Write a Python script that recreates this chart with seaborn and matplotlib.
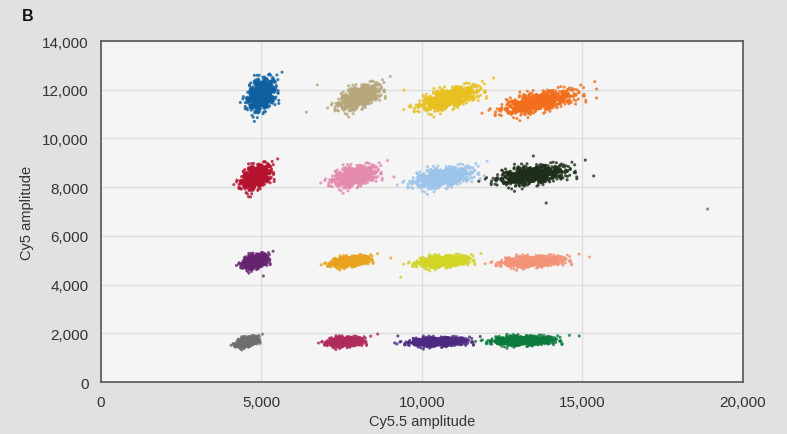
import numpy as np
import pandas as pd
import matplotlib
matplotlib.use("Agg")
import matplotlib.pyplot as plt
import seaborn as sns

# Cluster summaries
cluster_names = ["c01", "c02", "c03", "c04", "c05", "c06", "c07", "c08",
                 "c09", "c10", "c11", "c12", "c13", "c14", "c15", "c16"]
center_x = [5000, 8050, 10850, 13650, 4830, 7900, 10650, 13450,
            4800, 7750, 10650, 13450, 4550, 7600, 10500, 13150]
center_y = [11800, 11700, 11650, 11500, 8420, 8450, 8400, 8500,
            4950, 4950, 4950, 4950, 1650, 1650, 1650, 1700]
spread_x = [200, 300, 430, 540, 210, 320, 430, 510,
            175, 270, 370, 450, 150, 250, 410, 450]
spread_y = [310, 240, 230, 230, 230, 200, 200, 190,
            135, 100, 110, 105, 95, 90, 85, 90]
tilt = [0.3, 0.55, 0.6, 0.6, 0.4, 0.4, 0.45, 0.4,
        0.35, 0.4, 0.3, 0.25, 0.45, 0.15, 0.15, 0.1]
colors = ["#0d5fa0", "#b7a67c", "#e8c020", "#f26e1c",
          "#b5122e", "#e48aae", "#9cc4ea", "#1e2e1a",
          "#66246e", "#e8a21e", "#d2d426", "#f29276",
          "#6e6e6e", "#b02a5c", "#4c2a82", "#0b7a3c"]

# Stray droplets
stray_x = [6740, 6400, 9440, 9660, 15440, 15440, 15350, 13870, 13470,
           9130, 11940, 4660, 9030, 9340, 5060, 15220, 8620, 14900,
           9220, 9250, 18900]
stray_y = [12200, 11080, 11990, 11290, 12030, 11660, 8460, 7350, 9280,
           8420, 8460, 7600, 5090, 4300, 4350, 5130, 1970, 1890,
           1560, 1890, 7100]
stray_cluster = ["c02", "c02", "c03", "c03", "c04", "c04", "c08", "c08", "c08",
                 "c06", "c07", "c05", "c10", "c11", "c09", "c12", "c14", "c16",
                 "c15", "c15", "c13"]

# Shared droplet shape template (normalised offsets)
shape_u = [0.12, -0.85, 1.31, -0.42, 0.67, -1.54, 0.03, 0.94, -0.27, 1.78,
           -0.63, 0.38, -1.12, 0.55, -0.09, 1.05, -1.87, 0.21, -0.48, 0.81,
           1.42, -0.71, 0.29, -0.18, -1.33, 0.62, 2.21, -0.56, 0.09, -0.94,
           0.47, -2.05, 1.18, -0.31, 0.74, -0.02, -1.08, 0.33, 1.63, -0.77,
           -0.14, 0.89, -0.51, 1.27, -1.46, 0.16, -0.68, 0.58, -0.23, 2.48,
           0.41, -1.21, 0.06, 0.99, -0.37, -1.71, 0.72, -0.05, 1.12, -0.59,
           -0.88, 0.25, 1.51, -0.44, 0.84, -1.02, 0.13, -2.31, 0.52, -0.19,
           1.36, -0.66, 0.31, -0.11, 0.97, -1.39, 0.44, 1.89, -0.83, 0.07,
           -0.35, 0.61, -1.17, 0.19, -0.74, 1.22, -0.29, 0.86, -1.58, 0.36,
           0.04, -0.97, 1.69, -0.53, 0.27, -0.16, 0.78, -1.26, 0.49, -0.41]
shape_v = [-0.33, 0.71, 0.18, -1.24, 0.56, 0.09, -0.62, 1.37, -0.15, -0.48,
           1.02, -1.66, 0.27, 0.84, -0.91, -0.06, 0.43, 1.91, -0.38, 0.12,
           -0.77, -0.21, 1.15, 0.64, -0.52, -1.35, 0.31, 0.93, -2.12, 0.22,
           0.68, -0.44, -0.97, 1.49, 0.05, -0.29, 0.81, -1.08, 0.39, -0.13,
           1.26, -0.58, 0.14, -0.36, 0.72, -1.81, 0.46, 0.02, 2.03, -0.69,
           -0.24, 0.35, -1.43, 0.61, 1.11, -0.86, -0.11, 0.53, -0.64, 1.64,
           0.19, -0.99, 0.48, -0.27, -1.19, 0.88, 1.33, -0.08, -0.55, 0.41,
           0.26, 1.57, -0.72, -0.41, 0.96, 0.07, -1.56, -0.18, 0.59, 2.34,
           -1.01, 0.17, 0.74, -0.66, 1.42, -0.31, 0.03, -1.27, 0.51, 0.86,
           -0.46, 1.06, -0.14, -0.83, 0.29, -2.41, 0.62, -0.04, 1.19, -0.59]

x_ticks = [0, 5000, 10000, 15000, 20000]
y_ticks = [0, 2000, 4000, 6000, 8000, 10000, 12000, 14000]

# Template radii ranked into a bell-shaped spread, spread evenly in direction
T = np.column_stack([shape_u, shape_v])
T = np.vstack([T, T[:, ::-1], -T, -T[:, ::-1],
               T * [1, -1], T[:, ::-1] * [1, -1], T * [-1, 1], T[:, ::-1] * [-1, 1]])
rad = np.hypot(T[:, 0] + 0.013 * T[:, 1], T[:, 1] - 0.007 * T[:, 0])
n = len(rad)
q = (np.argsort(np.argsort(rad, kind="stable"), kind="stable") + 0.5) / n
rad_new = np.sqrt(-2 * np.log(1 - q))
ang = np.arange(n) * 2.399963
u = rad_new * np.cos(ang)
v = rad_new * np.sin(ang)

rows = []
for name, cx, cy, sx, sy, r in zip(cluster_names, center_x, center_y,
                                    spread_x, spread_y, tilt):
    xs = cx + sx * u
    ys = cy + sy * (r * u + np.sqrt(1 - r * r) * v)
    for a, b in zip(xs, ys):
        rows.append((a, b, name))
for a, b, name in zip(stray_x, stray_y, stray_cluster):
    rows.append((a, b, name))
df = pd.DataFrame(rows, columns=["Cy5.5", "Cy5", "cluster"])

sns.set_style("white")
plt.rcParams["font.family"] = ["Liberation Sans", "DejaVu Sans"]

fig = plt.figure(figsize=(7.87, 4.35), dpi=100)
fig.patch.set_facecolor("#e1e1e3")
ax = fig.add_axes([0.1283, 0.1195, 0.8157, 0.7839])
ax.set_facecolor("#f5f5f5")

sns.scatterplot(data=df, x="Cy5.5", y="Cy5", hue="cluster",
                palette=dict(zip(cluster_names, colors)), s=5,
                linewidth=0, alpha=0.8, legend=False, ax=ax, zorder=3)

ax.set_xlim(0, 20000)
ax.set_ylim(0, 14000)
ax.set_xticks(x_ticks)
ax.set_yticks(y_ticks)
ax.set_xticklabels([f"{t:,}" for t in x_ticks])
ax.set_yticklabels([f"{t:,}" for t in y_ticks])
ax.grid(True, color="#dedede", linewidth=1.0, zorder=0)
ax.set_axisbelow(True)
for sp in ax.spines.values():
    sp.set_color("#555555")
    sp.set_linewidth(1.2)
ax.tick_params(axis="both", direction="out", length=7, width=1.0,
               color="#444444", labelsize=11, labelcolor="#333333", pad=2)
ax.set_xlabel("Cy5.5 amplitude", fontsize=10.5, color="#333333", labelpad=4)
ax.set_ylabel("Cy5 amplitude", fontsize=10.5, color="#333333", labelpad=6)

fig.text(0.028, 0.963, "B", fontsize=11.5, fontweight="bold",
         color="#111111", va="center", ha="left")

fig.savefig("out.png", dpi=100, facecolor=fig.get_facecolor())
